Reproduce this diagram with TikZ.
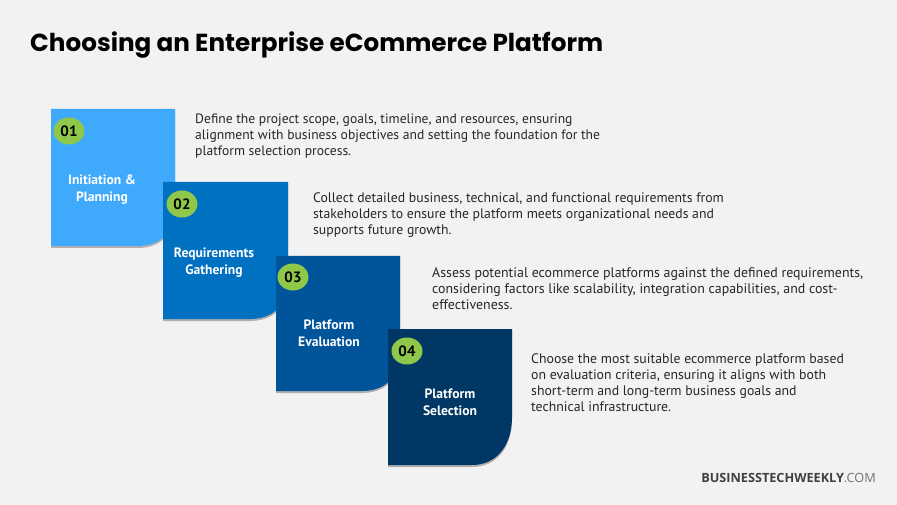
\documentclass[tikz,border=0pt]{standalone}
\usepackage{fontspec}
\usepackage{tikz}
\usetikzlibrary{shapes.geometric,shadows}
\setmainfont{PT Sans}
\newfontfamily\titlefont{Poppins}
\newfontfamily\markfont{Open Sans}
\definecolor{pagegray}{HTML}{F2F2F2}
\definecolor{cardone}{HTML}{3FA9FB}
\definecolor{cardtwo}{HTML}{0070C0}
\definecolor{cardthree}{HTML}{00559A}
\definecolor{cardfour}{HTML}{003764}
\definecolor{badgegreen}{HTML}{8FC74A}
\tikzset{
  card/.style={drop shadow={shadow xshift=0pt,shadow yshift=-2pt,opacity=0.4,fill=black!70}},
  badge/.style={ellipse,fill=badgegreen,minimum width=31pt,minimum height=27pt,inner sep=0pt,font=\fontsize{15}{15}\selectfont\bfseries,text=black},
  cardlabel/.style={align=center,inner sep=0pt,text=white,font=\fontsize{13.6}{17}\selectfont\bfseries},
  stepnote/.style={anchor=north west,align=left,inner sep=0pt,text=black!85,font=\fontsize{13.6}{16}\selectfont},
}
\begin{document}
\begin{tikzpicture}[x=1pt, y=-1pt]
  \useasboundingbox (0,0) rectangle (897,505);
  \fill[pagegray] (0,0) rectangle (897,505);
  \node[anchor=base west,inner sep=0pt,font=\titlefont\fontsize{24.65}{25}\selectfont\bfseries] (heading) at (30,52) {Choosing an Enterprise eCommerce Platform};
  % cards
  \fill[cardone,card] (51,109) -- (175,109) -- (175,208) .. controls (175,232) and (160,246) .. (138,246) -- (51,246) -- cycle;
  \node[cardlabel] (labelone) at (102,190) {Initiation \&\\Planning};
  \node[badge] (badgeone) at (69,131) {01};
  \fill[cardtwo,card] (163,182) -- (288,182) -- (288,281) .. controls (288,305) and (273,319) .. (250,319) -- (163,319) -- cycle;
  \node[cardlabel] (labeltwo) at (214,263) {Requirements\\Gathering};
  \node[badge] (badgetwo) at (182,204) {02};
  \fill[cardthree,card] (276,256) -- (400,256) -- (400,353) .. controls (400,377) and (385,391) .. (362,391) -- (276,391) -- cycle;
  \node[cardlabel] (labelthree) at (329,333) {Platform\\Evaluation};
  \node[badge] (badgethree) at (293,277) {03};
  \fill[cardfour,card] (388,329) -- (512,329) -- (512,417) .. controls (512,445) and (497,465) .. (472,465) -- (388,465) -- cycle;
  \node[cardlabel] (labelfour) at (450,402) {Platform\\Selection};
  \node[badge] (badgefour) at (407,351) {04};
  % texts
  \node[stepnote] (noteone) at (195,114) {Define the project scope, goals, timeline, and resources, ensuring\\alignment with business objectives and setting the foundation for the\\platform selection process.};
  \node[stepnote,font=\fontsize{13.75}{16}\selectfont] (notetwo) at (313,192.5) {Collect detailed business, technical, and functional requirements from\\stakeholders to ensure the platform meets organizational needs and\\supports future growth.};
  \node[stepnote,font=\fontsize{13.9}{16}\selectfont] (notethree) at (432,267.5) {Assess potential ecommerce platforms against the defined requirements,\\considering factors like scalability, integration capabilities, and cost-\\effectiveness.};
  \node[stepnote,font=\fontsize{13.8}{16}\selectfont] (notefour) at (531,353.5) {Choose the most suitable ecommerce platform based\\on evaluation criteria, ensuring it aligns with both\\short-term and long-term business goals and\\technical infrastructure.};
  \node[anchor=base east,inner sep=0pt,font=\markfont\fontsize{12.7}{12.7}\selectfont] (brand) at (876,482) {\textcolor{black!75}{\bfseries BUSINESSTECHWEEKLY}\textcolor{black!55}{.COM}};
\end{tikzpicture}
\end{document}
